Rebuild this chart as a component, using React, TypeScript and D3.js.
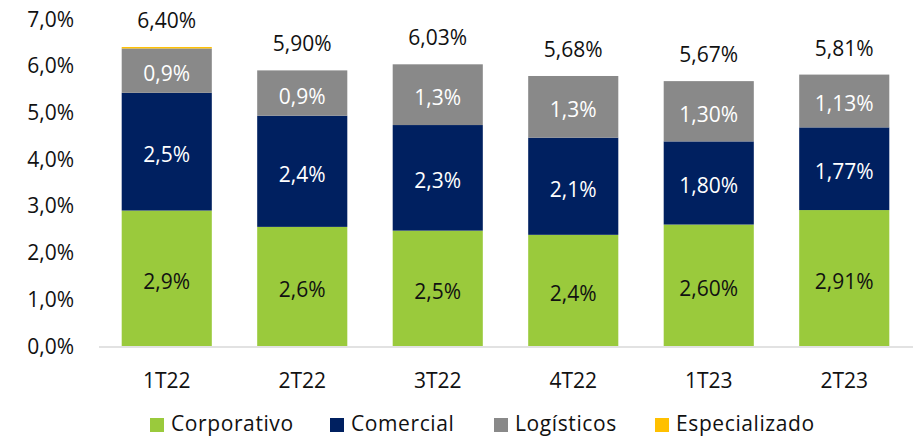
import React, { useEffect, useRef } from "react";
import * as d3 from "d3";

const categories = ["1T22", "2T22", "3T22", "4T22", "1T23", "2T23"];
const seriesNames = ["Corporativo", "Comercial", "Logísticos", "Especializado"];
const corporativo = [2.9, 2.55, 2.47, 2.38, 2.6, 2.91];
const comercial = [2.52, 2.38, 2.26, 2.08, 1.78, 1.77];
const logisticos = [0.95, 0.97, 1.3, 1.32, 1.29, 1.13];
const especializado = [0.03, 0, 0, 0, 0, 0];
const corpLabels = ["2,9%", "2,6%", "2,5%", "2,4%", "2,60%", "2,91%"];
const comLabels = ["2,5%", "2,4%", "2,3%", "2,1%", "1,80%", "1,77%"];
const logLabels = ["0,9%", "0,9%", "1,3%", "1,3%", "1,30%", "1,13%"];
const totalLabels = ["6,40%", "5,90%", "6,03%", "5,68%", "5,67%", "5,81%"];
const yTicks = [0, 1, 2, 3, 4, 5, 6, 7];
const colors = ["#9ACA3C", "#002060", "#898989", "#FFC000"];
const legendX = [150, 330, 494, 655];

const W = 914;
const H = 437;
const FONT = "'Open Sans', sans-serif";
const FS = 21;

export default function App() {
  const ref = useRef<SVGSVGElement | null>(null);

  useEffect(() => {
    const svg = d3.select(ref.current);
    svg.selectAll("*").remove();

    const x = d3.scaleBand<string>().domain(categories).range([99, 912]).paddingInner(0.335).paddingOuter(0.1675);
    const y = d3.scaleLinear().domain([0, 7]).range([346, 19]);

    const rows = categories.map((c, i) => ({
      cat: c,
      Corporativo: corporativo[i],
      Comercial: comercial[i],
      "Logísticos": logisticos[i],
      Especializado: especializado[i],
    }));
    const stack = d3.stack<any>().keys(seriesNames)(rows);
    const segLabels = [corpLabels, comLabels, logLabels, null];

    // axis line
    svg.append("line")
      .attr("x1", 99).attr("x2", 913)
      .attr("y1", y(0) + 1).attr("y2", y(0) + 1)
      .attr("stroke", "#D9D9D9").attr("stroke-width", 1.5);

    // y tick labels
    svg.append("g").selectAll("text").data(yTicks).join("text")
      .attr("x", 74).attr("y", (d) => y(d) + 7.5)
      .attr("text-anchor", "end")
      .attr("font-family", FONT).attr("font-size", FS).attr("fill", "#111")
      .text((d) => d.toFixed(1).replace(".", ",") + "%");

    stack.forEach((layer, si) => {
      const g = svg.append("g");
      g.selectAll("rect").data(layer).join("rect")
        .attr("x", (d: any) => x(d.data.cat)!)
        .attr("width", x.bandwidth())
        .attr("y", (d: any) => y(d[1]))
        .attr("height", (d: any) => Math.max(0, y(d[0]) - y(d[1])))
        .attr("fill", colors[si]);
      const labs = segLabels[si];
      if (labs) {
        g.selectAll("text").data(layer).join("text")
          .attr("x", (d: any) => x(d.data.cat)! + x.bandwidth() / 2)
          .attr("y", (d: any) => (y(d[0]) + y(d[1])) / 2 + 10.5)
          .attr("text-anchor", "middle")
          .attr("font-family", FONT).attr("font-size", FS)
          .attr("fill", si === 0 ? "#111" : "#ffffff")
          .text((_d: any, i: number) => labs[i]);
      }
    });

    // totals
    const top = stack[stack.length - 1];
    svg.append("g").selectAll("text").data(top).join("text")
      .attr("x", (d: any) => x(d.data.cat)! + x.bandwidth() / 2)
      .attr("y", (d: any) => y(d[1]) - 19)
      .attr("text-anchor", "middle")
      .attr("font-family", FONT).attr("font-size", FS).attr("fill", "#111")
      .text((_d: any, i: number) => totalLabels[i]);

    // x labels
    svg.append("g").selectAll("text").data(categories).join("text")
      .attr("x", (d) => x(d)! + x.bandwidth() / 2)
      .attr("y", 388)
      .attr("text-anchor", "middle")
      .attr("font-family", FONT).attr("font-size", FS).attr("fill", "#111")
      .text((d) => d);

    // legend
    const lg = svg.append("g");
    seriesNames.forEach((name, i) => {
      const cx = legendX[i];
      lg.append("rect").attr("x", cx).attr("y", 418).attr("width", 14).attr("height", 14).attr("fill", colors[i]);
      lg.append("text")
        .attr("x", cx + 21).attr("y", 431)
        .attr("font-family", FONT).attr("font-size", FS).attr("letter-spacing", 0.6).attr("fill", "#111")
        .text(name);
    });
  }, []);

  return (
    <svg ref={ref} width={W} height={H} style={{ display: "block", position: "absolute", left: 0, top: 0 }} />
  );
}
